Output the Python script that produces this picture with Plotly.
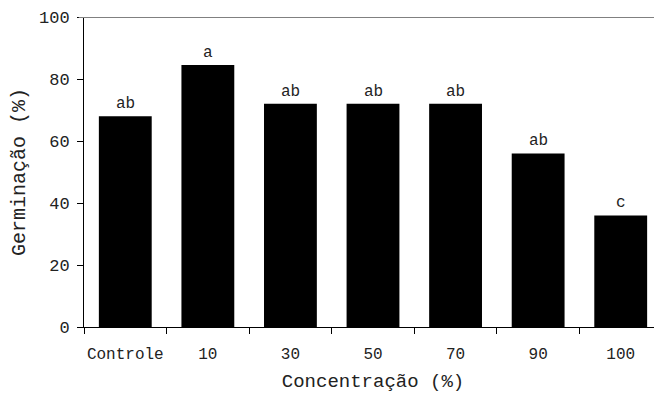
import plotly.graph_objects as go

categories = ["Controle", "10", "30", "50", "70", "90", "100"]
values = [68, 84.5, 72, 72, 72, 56, 36]
letters = ["ab", "a", "ab", "ab", "ab", "ab", "c"]
y_ticks = [0, 20, 40, 60, 80, 100]

FONT = "Liberation Mono, Courier New, monospace"
TXT = "#222222"

fig = go.Figure()
fig.add_trace(go.Bar(
    x=categories, y=values,
    marker=dict(color="black", line=dict(width=0)),
    showlegend=False,
))

annotations = [
    dict(x=i, y=v, xref="x", yref="y", text=t, showarrow=False, yanchor="bottom", yshift=1,
         font=dict(family=FONT, size=16, color=TXT))
    for i, (v, t) in enumerate(zip(values, letters))
]

fig.update_layout(
    width=654, height=396,
    margin=dict(l=76, r=0, t=9, b=77),
    paper_bgcolor="white", plot_bgcolor="white",
    bargap=0.36,
    font=dict(family=FONT, size=16, color=TXT),
    annotations=annotations,
    shapes=[dict(type="line", xref="paper", yref="y", x0=-0.009, x1=1, y0=100, y1=100,
                 line=dict(color="#808080", width=2))],
    xaxis=dict(
        type="category", range=[-0.5, 6.5], automargin=False,
        showline=True, linecolor="black", linewidth=1,
        ticks="outside", tickson="boundaries", ticklen=6, tickcolor="black",
        showgrid=False, zeroline=False, tickangle=0, ticklabelstandoff=12,
        tickfont=dict(family=FONT, size=16, color=TXT),
        title=dict(text="Concentração (%)", font=dict(family=FONT, size=19, color=TXT), standoff=10),
    ),
    yaxis=dict(
        range=[0, 100], tickvals=y_ticks, automargin=False,
        showline=True, linecolor="black", linewidth=1,
        ticks="outside", ticklen=6, tickcolor="black", ticklabelstandoff=4,
        showgrid=False, zeroline=False,
        tickfont=dict(family=FONT, size=17, color=TXT),
        title=dict(text="Germinação (%)", font=dict(family=FONT, size=20, color=TXT), standoff=14),
    ),
)

fig.write_html("out.html")
